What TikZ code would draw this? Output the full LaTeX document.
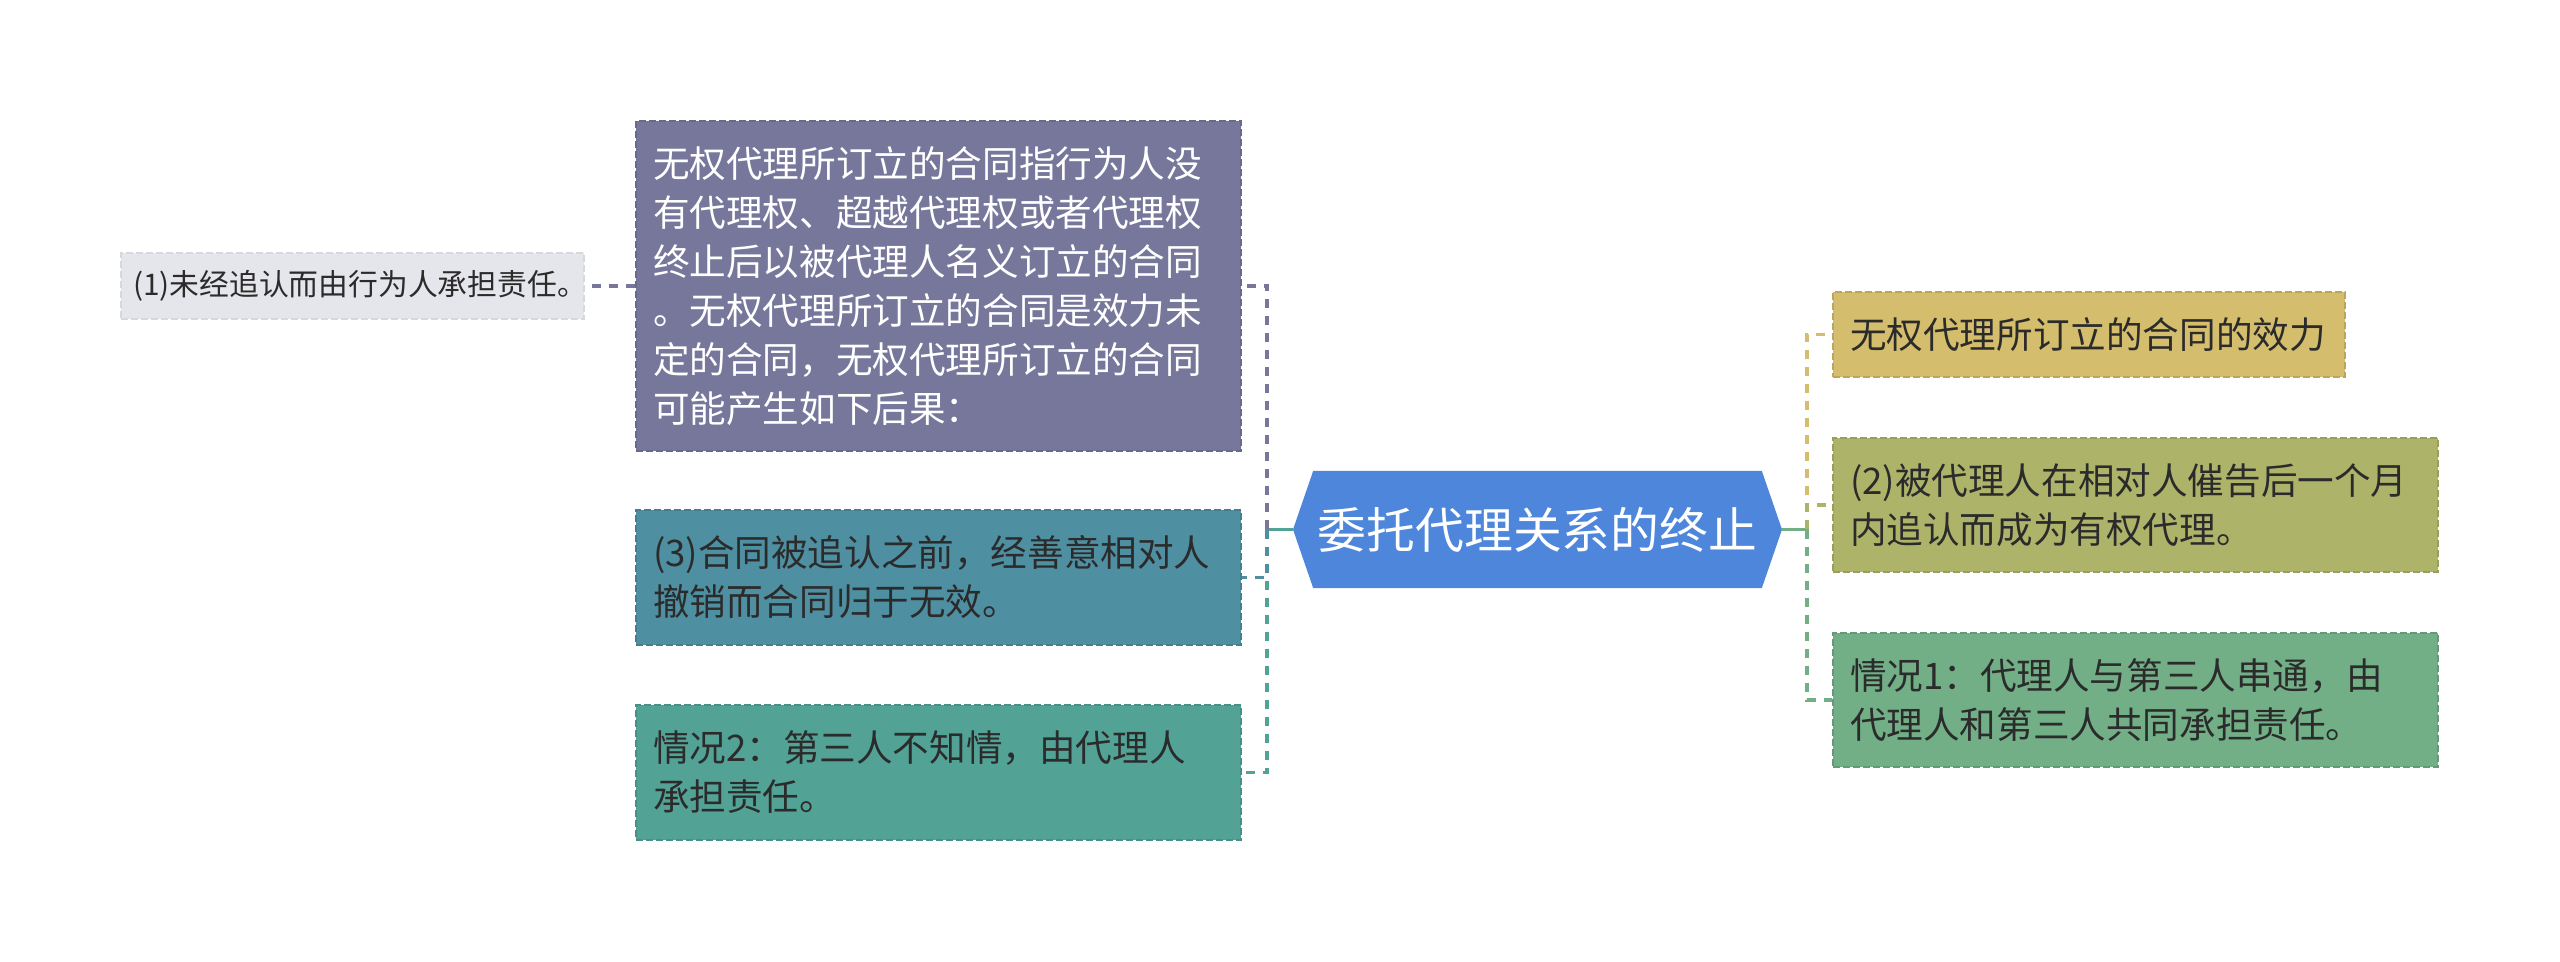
\documentclass[tikz,border=0pt]{standalone}
\usepackage{fontspec}
\newfontfamily\cjk{Noto Sans CJK SC}
\usetikzlibrary{shapes.symbols}
\definecolor{rootblue}{HTML}{4D86DB}
\definecolor{purplebox}{HTML}{77779C}
\definecolor{graybox}{HTML}{E5E5EC}
\definecolor{tealbox}{HTML}{4F8FA2}
\definecolor{seabox}{HTML}{52A396}
\definecolor{yellowbox}{HTML}{D4BD6C}
\definecolor{olivebox}{HTML}{ADB46A}
\definecolor{greenbox}{HTML}{72AF87}
\definecolor{textdark}{HTML}{2B2B2B}
\begin{document}
\begin{tikzpicture}[x=0.5pt,y=-0.5pt,
    leaf/.style={draw=#1!88!black, fill=#1, dash pattern=on 3.5pt off 1.5pt,
      line width=0.6pt, inner xsep=8.5pt, inner ysep=0pt, align=left,
      text=textdark, font=\cjk\fontsize{18.3}{24.5}\selectfont},
    rootnode/.style={signal, signal to=west and east, signal pointer angle=142,
      fill=rootblue, text=white, inner sep=0pt,
      font=\cjk\fontsize{24.4}{28}\selectfont},
    link/.style={draw=#1, line width=1.6pt, dash pattern=on 4.5pt off 4pt},
    rootlink/.style={draw=#1, line width=1.6pt}]

  % Background and page size
  \fill[white] (0,0) rectangle (2560,962);
  \useasboundingbox (0,0) rectangle (2560,962);

  % Root
  \node[rootnode, minimum width=244.5pt, minimum height=58.5pt] (root) at (1537.5,529.5) {委托代理关系的终止};
  \coordinate (jl) at (1267,529.5);
  \coordinate (jr) at (1807,529.5);

  % Left branch
  \node[leaf=purplebox, text=white, text width=285.5pt, minimum height=165pt] (contract) at (938.5,286)
    {无权代理所订立的合同指行为人没\\有代理权、超越代理权或者代理权\\终止后以被代理人名义订立的合同\\。无权代理所订立的合同是效力未\\定的合同，无权代理所订立的合同\\可能产生如下后果：};
  \node[leaf=graybox, draw=graybox!94!black, inner xsep=6pt, text width=219.5pt, minimum height=33pt,
    font=\cjk\fontsize{14.9}{18}\selectfont] (unratified) at (352.5,286)
    {(1)未经追认而由行为人承担责任。};
  \node[leaf=tealbox, text width=285.5pt, minimum height=67.5pt] (revoke) at (938.5,577.5)
    {(3)合同被追认之前，经善意相对人\\撤销而合同归于无效。};
  \node[leaf=seabox, text width=285.5pt, minimum height=67.5pt] (case2) at (938.5,772.5)
    {情况2：第三人不知情，由代理人\\承担责任。};

  % Right branch
  \node[leaf=yellowbox, text width=239pt, minimum height=42.5pt] (effect) at (2089,334.5)
    {无权代理所订立的合同的效力};
  \node[leaf=olivebox, text width=285.5pt, minimum height=67pt] (ratified) at (2135.5,505)
    {(2)被代理人在相对人催告后一个月\\内追认而成为有权代理。};
  \node[leaf=greenbox, text width=285.5pt, minimum height=67pt] (case1) at (2135.5,700)
    {情况1：代理人与第三人串通，由\\代理人和第三人共同承担责任。};

  % Connectors
  \draw[rootlink=seabox] (root.west) -- (jl);
  \draw[rootlink=greenbox] (root.east) -- (jr);
  \draw[link=purplebox] (jl) |- (contract.east);
  \draw[link=seabox] (jl) |- (case2.east);
  \draw[link=tealbox] (jl) |- (revoke.east);
  \draw[link=purplebox] (contract.west) -- (unratified.east);
  \draw[link=yellowbox] (jr) |- (effect.west);
  \draw[link=olivebox] (jr) |- (ratified.west);
  \draw[link=greenbox] (jr) |- (case1.west);
\end{tikzpicture}
\end{document}
